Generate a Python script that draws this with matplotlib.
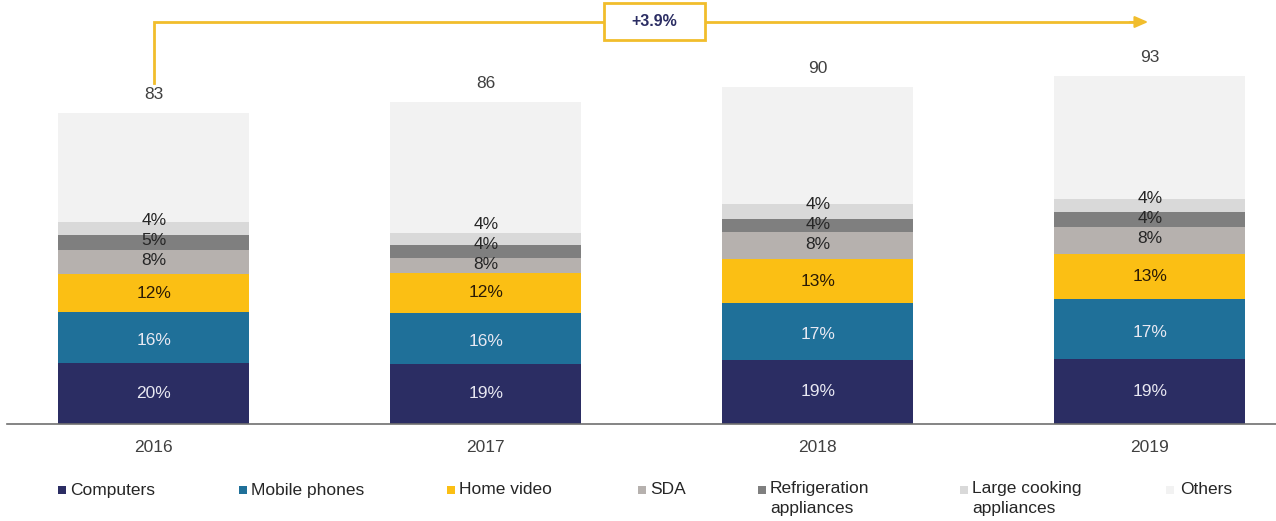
import matplotlib
matplotlib.use("Agg")
import numpy as np
import matplotlib.pyplot as plt
from matplotlib.patches import Rectangle

plt.rcParams['font.family'] = ['Liberation Sans', 'DejaVu Sans']

years = ['2016', '2017', '2018', '2019']
totals = ['83', '86', '90', '93']
categories = ['Computers', 'Mobile phones', 'Home video', 'SDA',
              'Refrigeration\nappliances', 'Large cooking\nappliances', 'Others']

# segment sizes (same units as the totals)
computers = [16.3, 15.8, 16.9, 17.2]
mobile = [13.5, 13.9, 15.3, 16.0]
home_video = [10.2, 10.6, 11.8, 12.3]
sda = [6.5, 4.0, 7.2, 7.2]
refrigeration = [4.0, 3.6, 3.5, 3.8]
large_cooking = [3.5, 3.1, 4.0, 3.6]
others = [29.0, 35.0, 31.3, 32.9]

# share labels printed on the bars
pct_computers = ['20%', '19%', '19%', '19%']
pct_mobile = ['16%', '16%', '17%', '17%']
pct_home = ['12%', '12%', '13%', '13%']
pct_sda = ['8%', '8%', '8%', '8%']
pct_refr = ['5%', '4%', '4%', '4%']
pct_large = ['4%', '4%', '4%', '4%']

cagr = '+3.9%'

series = [computers, mobile, home_video, sda, refrigeration, large_cooking, others]
colors = ['#2b2d63', '#1f7099', '#fbbf14', '#b6b1ae', '#7f7f7f', '#d9d9d9', '#f2f2f2']

W, H = 1276, 521
fig = plt.figure(figsize=(W / 100, H / 100), dpi=100)
base_px = 423.5
ax = fig.add_axes([7 / W, (H - base_px) / H, 1 - 7 / W, base_px / H])
ppu = 3.735  # pixels per unit
ax.set_ylim(0, base_px / ppu)
ax.set_xlim(-0.442, 3.38)

x = np.arange(len(years))
bw = 0.576
bottom = np.zeros(len(years))
bots = []
for vals, c in zip(series, colors):
    ax.bar(x, vals, bw, bottom=bottom, color=c, linewidth=0)
    bots.append(bottom.copy())
    bottom = bottom + np.array(vals)

for s in ['top', 'right', 'left']:
    ax.spines[s].set_visible(False)
ax.spines['bottom'].set_color('#707070')
ax.spines['bottom'].set_linewidth(1.2)
ax.set_xticks([])
ax.set_yticks([])

fs = 12.5
light = '#e8e8f2'
dark = '#262626'
for i in range(len(years)):
    ax.text(x[i], bots[0][i] + computers[i] / 2, pct_computers[i], ha='center', va='center',
            fontsize=fs, color=light)
    ax.annotate(pct_mobile[i], (x[i], bots[1][i] + mobile[i] / 2), xytext=(0, -2),
                textcoords='offset points', ha='center', va='center', fontsize=fs, color=light)
    ax.text(x[i], bots[2][i] + home_video[i] / 2, pct_home[i], ha='center', va='center',
            fontsize=fs, color='#2a1a05')
    ymid = bots[3][i] + sda[i] / 2 + 0.3
    for lab, off in zip([pct_sda[i], pct_refr[i], pct_large[i]], [0, 14.4, 28.8]):
        ax.annotate(lab, (x[i], ymid), xytext=(0, off), textcoords='offset points',
                    ha='center', va='center', fontsize=fs, color=dark)
    ax.annotate(totals[i], (x[i], bottom[i]), xytext=(0, 13.5), textcoords='offset points',
                ha='center', va='center', fontsize=12.5, color='#404040')
    ax.annotate(years[i], (x[i], 0), xytext=(0, -17.5), textcoords='offset points',
                ha='center', va='center', fontsize=12.5, color='#404040')

# growth bracket
gold = '#f1bd2c'
y_line = (base_px - 22) / ppu
ax.plot([0, 0, 2.97], [bottom[0] + 8.2, y_line, y_line], color=gold, lw=2,
        clip_on=False, solid_joinstyle='miter', zorder=3)
ax.annotate('', xy=(2.995, y_line), xytext=(2.94, y_line),
            arrowprops=dict(arrowstyle='-|>,head_length=0.8,head_width=0.35',
                            color=gold, lw=1.5, shrinkA=0, shrinkB=0),
            annotation_clip=False)
bx0, bx1, by0, by1 = 604, 705, 3, 40
fig.add_artist(Rectangle((bx0 / W, 1 - by1 / H), (bx1 - bx0) / W, (by1 - by0) / H,
                         transform=fig.transFigure, facecolor='white',
                         edgecolor=gold, lw=2, zorder=5))
fig.text((bx0 + bx1) / 2 / W, 1 - 21.5 / H, cagr, ha='center', va='center',
         fontsize=11.5, fontweight='bold', color='#2b2d63', zorder=6)

# legend
marker_x = [62, 243, 451, 642, 762, 964, 1170]
text_x = [70, 251, 459, 650, 770, 972, 1180]
leg_y = 490
for mx, tx, lab, c in zip(marker_x, text_x, categories, colors):
    fig.add_artist(Rectangle(((mx - 4) / W, 1 - (leg_y + 4) / H), 8 / W, 8 / H,
                             transform=fig.transFigure, facecolor=c, lw=0))
    if '\n' in lab:
        fig.text(tx / W, 1 - (leg_y - 9) / H, lab, ha='left', va='top', fontsize=12.5,
                 color='#262626', linespacing=1.45)
    else:
        fig.text(tx / W, 1 - leg_y / H, lab, ha='left', va='center', fontsize=12.5,
                 color='#262626')

fig.savefig('out.png', dpi=100)
